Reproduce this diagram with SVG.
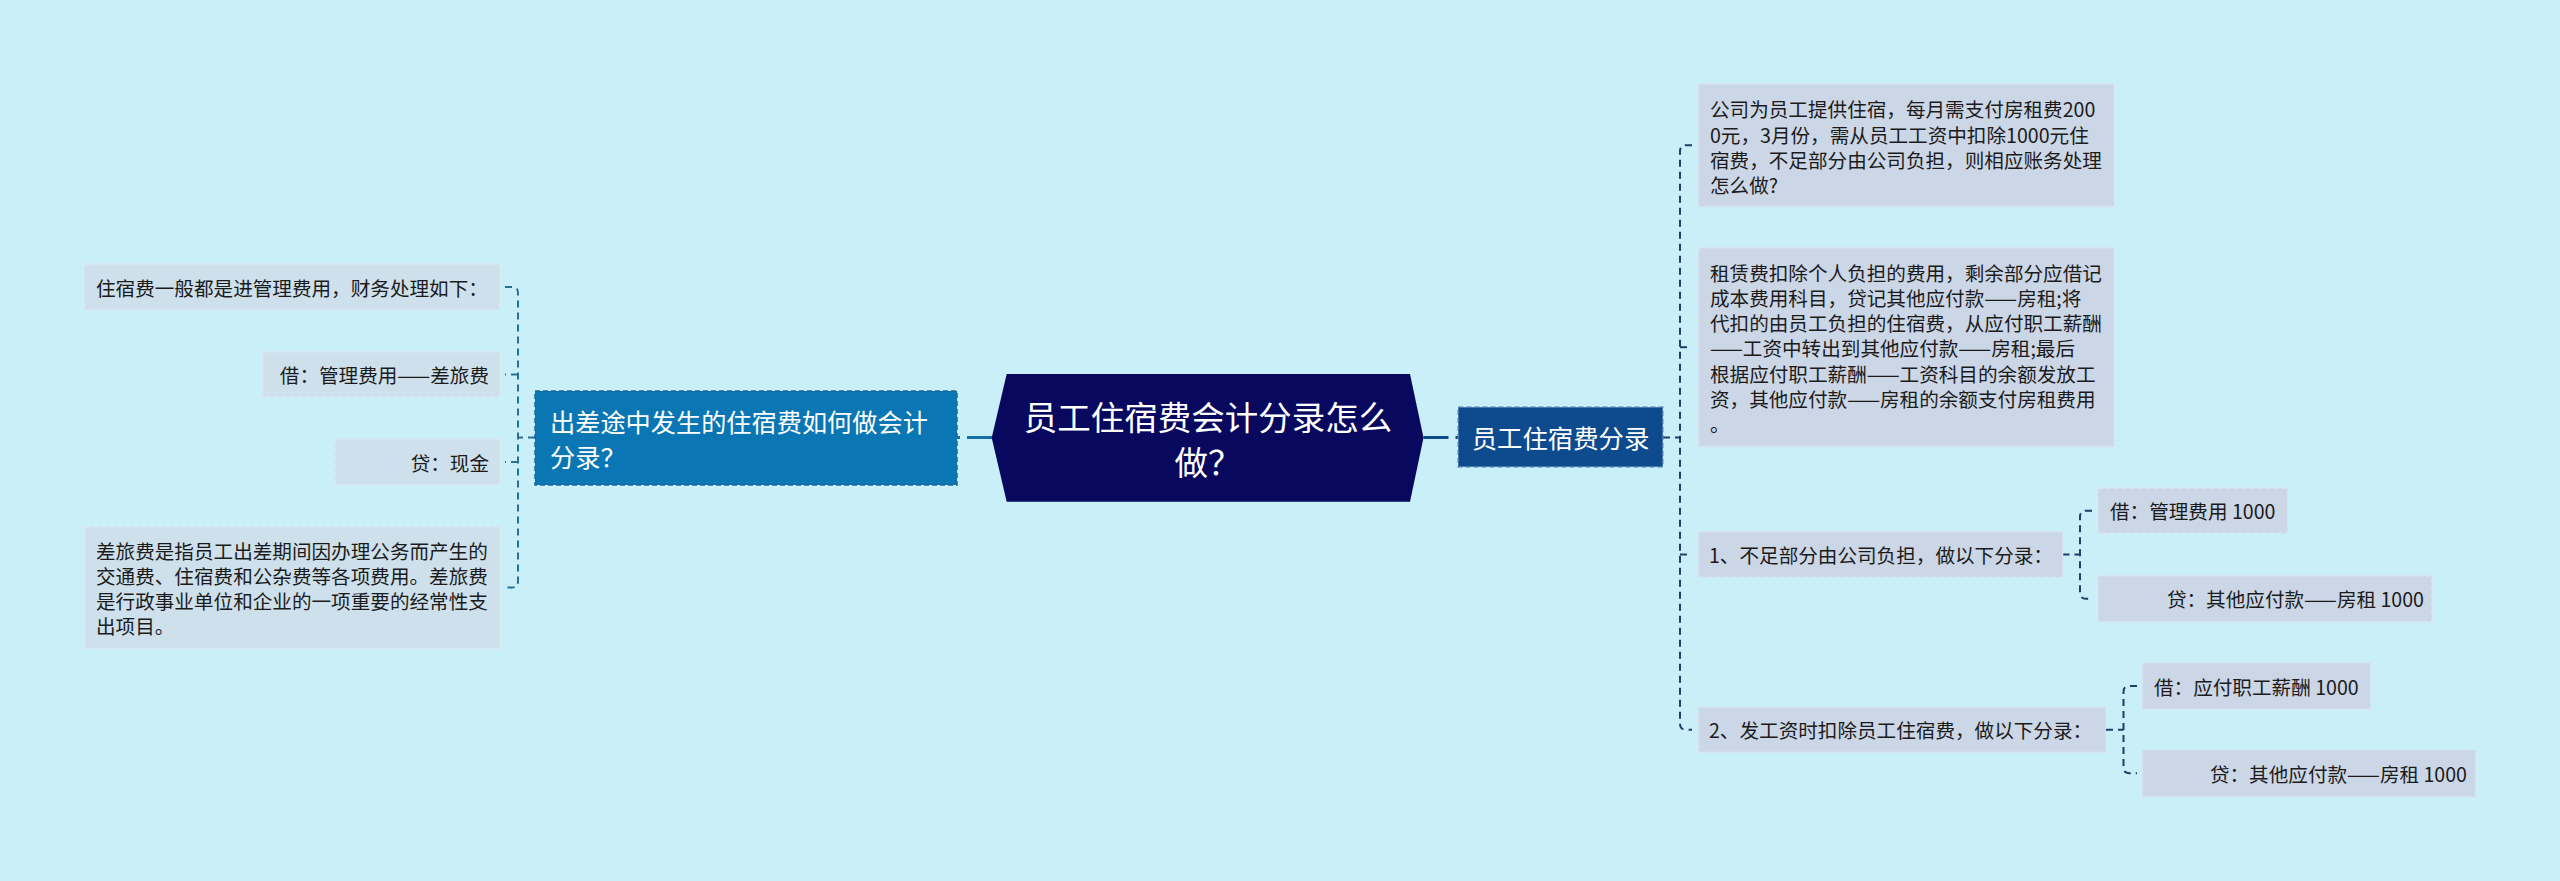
<svg xmlns="http://www.w3.org/2000/svg" width="2560" height="881" viewBox="0 0 2560 881">
<style>
text, tspan { font-family: "Noto Sans CJK SC", "Noto Sans", sans-serif; dominant-baseline: central; }
.leaf { font-size: 19.6px; fill: #1b1b1b; }
.leafL rect { fill: #cde0ec; stroke: #dce9f2; stroke-width: 1.5; stroke-dasharray: 5 3; }
.leafR rect { fill: #cbd6e6; stroke: #dbe3ef; stroke-width: 1.5; stroke-dasharray: 5 3; }
.wt { fill: #ffffff; }
.conL { fill: none; stroke: #2a6e90; stroke-width: 2; stroke-dasharray: 7 5; }
.conR { fill: none; stroke: #1d3f66; stroke-width: 2; stroke-dasharray: 7 5; }
.conM { fill: none; stroke-width: 3; stroke-dasharray: 25 7; }
</style>
<rect x="0" y="0" width="2560" height="881" fill="#c9eff8"/>

<g id="connectors">
  <path class="conM" d="M 992,437.5 H 957" stroke="#1570a8"/>
  <path class="conM" d="M 1423.5,437.5 H 1458" stroke="#0f4a8a"/>
  <!-- left group -->
  <path class="conL" d="M 535,437.5 H 518"/>
  <path class="conL" d="M 505,287 H 512 Q 518,287 518,293 V 581.5 Q 518,587.5 512,587.5 H 505"/>
  <path class="conL" d="M 518,374.5 H 505"/>
  <path class="conL" d="M 518,462 H 505"/>
  <!-- right main group -->
  <path class="conR" d="M 1663,437.5 H 1680"/>
  <path class="conR" d="M 1692,145.3 H 1686 Q 1680,145.3 1680,151.3 V 723.7 Q 1680,729.7 1686,729.7 H 1692"/>
  <path class="conR" d="M 1680,347.2 H 1692"/>
  <path class="conR" d="M 1680,554.5 H 1692"/>
  <!-- C group -->
  <path class="conR" d="M 2062.5,554.5 H 2080"/>
  <path class="conR" d="M 2092,510.8 H 2086 Q 2080,510.8 2080,516.8 V 592.7 Q 2080,598.7 2086,598.7 H 2092"/>
  <!-- D group -->
  <path class="conR" d="M 2106,729.7 H 2123.5"/>
  <path class="conR" d="M 2137,686 H 2129.5 Q 2123.5,686 2123.5,692 V 767.3 Q 2123.5,773.3 2129.5,773.3 H 2137"/>
</g>

<g id="center">
  <polygon points="1006.7,374 1410,374 1423.5,437.8 1410,501.7 1006.7,501.7 991.7,437.8" fill="#08085e"/>
  <text class="wt" font-size="33.5" text-anchor="middle"><tspan x="1208" y="415">员工住宿费会计分录怎么</tspan><tspan x="1208" y="460">做？</tspan></text>
</g>

<g id="n-chuchai">
  <rect x="535" y="391" width="422" height="94" fill="#0a77b4" stroke="#1d6598" stroke-width="1.5" stroke-dasharray="5 3"/>
  <text class="wt" font-size="25.2"><tspan x="550" y="421">出差途中发生的住宿费如何做会计</tspan><tspan x="550" y="456">分录？</tspan></text>
</g>

<g id="n-fenlu">
  <rect x="1458.3" y="407.3" width="204.4" height="59.4" fill="#0e4a8e" stroke="#4a78ae" stroke-width="1.5" stroke-dasharray="5 3"/>
  <text class="wt" font-size="25.4" text-anchor="middle" x="1560.5" y="437">员工住宿费分录</text>
</g>

<g id="l1" class="leafL">
  <rect x="84" y="264" width="416" height="46"/>
  <text class="leaf" x="96" y="287">住宿费一般都是进管理费用，财务处理如下：</text>
</g>
<g id="l2" class="leafL">
  <rect x="262.5" y="351.7" width="237.5" height="45.6"/>
  <text class="leaf" x="489" y="374.5" text-anchor="end">借：管理费用——差旅费</text>
</g>
<g id="l3" class="leafL">
  <rect x="335" y="439" width="165" height="46"/>
  <text class="leaf" x="489" y="462" text-anchor="end">贷：现金</text>
</g>
<g id="l4" class="leafL">
  <rect x="85" y="526.5" width="415" height="122"/>
  <text class="leaf"><tspan x="96" y="549.5">差旅费是指员工出差期间因办理公务而产生的</tspan><tspan x="96" y="574.8">交通费、住宿费和公杂费等各项费用。差旅费</tspan><tspan x="96" y="600.1">是行政事业单位和企业的一项重要的经常性支</tspan><tspan x="96" y="625.4">出项目。</tspan></text>
</g>

<g id="rA" class="leafR">
  <rect x="1698.5" y="84" width="415.5" height="122.7"/>
  <text class="leaf"><tspan x="1710" y="108.3">公司为员工提供住宿，每月需支付房租费200</tspan><tspan x="1710" y="133.5">0元，3月份，需从员工工资中扣除1000元住</tspan><tspan x="1710" y="158.7">宿费，不足部分由公司负担，则相应账务处理</tspan><tspan x="1710" y="183.9">怎么做?</tspan></text>
</g>
<g id="rB" class="leafR">
  <rect x="1698.5" y="247.7" width="415.5" height="199"/>
  <text class="leaf"><tspan x="1710" y="271.6">租赁费扣除个人负担的费用，剩余部分应借记</tspan><tspan x="1710" y="296.9">成本费用科目，贷记其他应付款——房租;将</tspan><tspan x="1710" y="322.1">代扣的由员工负担的住宿费，从应付职工薪酬</tspan><tspan x="1710" y="347.4">——工资中转出到其他应付款——房租;最后</tspan><tspan x="1710" y="372.6">根据应付职工薪酬——工资科目的余额发放工</tspan><tspan x="1710" y="397.9">资，其他应付款——房租的余额支付房租费用</tspan><tspan x="1710" y="423.1">。</tspan></text>
</g>
<g id="rC" class="leafR">
  <rect x="1698.5" y="531.7" width="364" height="45.6"/>
  <text class="leaf" x="1709" y="554.5">1、不足部分由公司负担，做以下分录：</text>
</g>
<g id="rC1" class="leafR">
  <rect x="2098" y="488.3" width="189.5" height="45"/>
  <text class="leaf" x="2110" y="510.8">借：管理费用 1000</text>
</g>
<g id="rC2" class="leafR">
  <rect x="2098" y="575.7" width="334" height="46"/>
  <text class="leaf" x="2424" y="598.7" text-anchor="end">贷：其他应付款——房租 1000</text>
</g>
<g id="rD" class="leafR">
  <rect x="1698.5" y="707.3" width="407.5" height="44.9"/>
  <text class="leaf" x="1709" y="729.7">2、发工资时扣除员工住宿费，做以下分录：</text>
</g>
<g id="rD1" class="leafR">
  <rect x="2142.5" y="662.7" width="228" height="46.6"/>
  <text class="leaf" x="2154" y="686">借：应付职工薪酬 1000</text>
</g>
<g id="rD2" class="leafR">
  <rect x="2142.5" y="750" width="333.2" height="46.7"/>
  <text class="leaf" x="2467" y="773.3" text-anchor="end">贷：其他应付款——房租 1000</text>
</g>
</svg>
